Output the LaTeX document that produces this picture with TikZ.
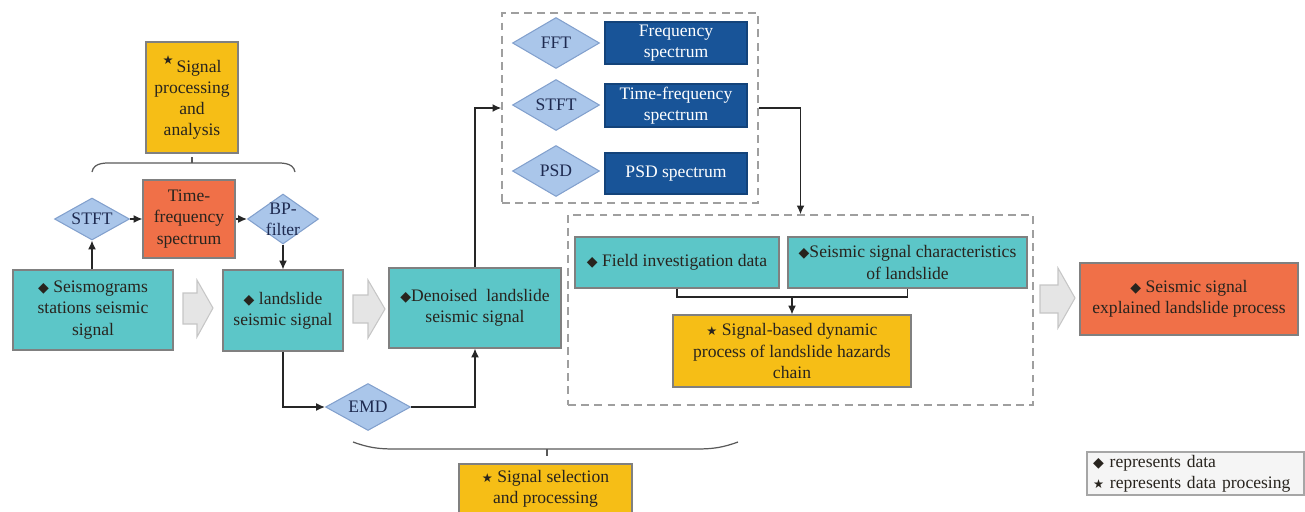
\documentclass[tikz,border=0pt]{standalone}
\usepackage{fontspec}
\setmainfont{Liberation Serif}
\newfontfamily\symf{DejaVu Sans}
\usetikzlibrary{shapes.geometric,arrows.meta}
\definecolor{tealc}{RGB}{92,198,200}
\definecolor{goldc}{RGB}{246,190,22}
\definecolor{orngc}{RGB}{240,112,72}
\definecolor{dbluec}{RGB}{24,84,152}
\definecolor{diaf}{RGB}{170,198,234}
\definecolor{diab}{RGB}{130,160,205}
\definecolor{diat}{RGB}{30,42,80}
\definecolor{bordc}{RGB}{128,128,128}
\definecolor{txtc}{RGB}{40,36,30}
\newcommand\dmd{{\symf\footnotesize ◆}}
\newcommand\stv{{\symf\scriptsize ★}}
\begin{document}
\begin{tikzpicture}[x=0.02cm,y=-0.02cm,
  sz/.style 2 args={minimum width=#1*0.02cm, minimum height=#2*0.02cm},
  box/.style={rectangle, draw=bordc, line width=0.6pt, inner sep=0pt, align=center, text=txtc, font=\fontsize{10}{12}\selectfont},
  tealbox/.style={box, fill=tealc},
  goldbox/.style={box, fill=goldc},
  orngbox/.style={box, fill=orngc},
  bluebox/.style={box, fill=dbluec, draw=dbluec!80!black, text=white},
  dia/.style={diamond, draw=diab, fill=diaf, inner sep=0pt, line width=0.6pt},
  dlab/.style={text=diat, align=center, font=\fontsize{10}{12}\selectfont},
  dbox/.style={rectangle, draw=gray!75, line width=0.8pt, dash pattern=on 4.5pt off 3pt, inner sep=0pt},
  arr/.style={-{Latex[length=5pt,width=4.5pt]}, line width=0.8pt, draw=black!85},
  ln/.style={line width=0.8pt, draw=black!85},
  garrow/.style={fill=gray!20, draw=gray!45, line width=0.6pt},
  brace/.style={line width=0.7pt, draw=gray!70!black},
  legbox/.style={rectangle, draw=gray!70, fill=gray!8, line width=0.6pt, inner sep=0pt, text width=4.1cm, align=left, text=txtc, font=\fontsize{10}{12}\selectfont}
]
\useasboundingbox (0,0) rectangle (1305,511);

% dashed group boxes
\node[dbox, sz={256}{190}] (topbox) at (630,108) {};
\node[dbox, sz={465}{190}] (botbox) at (800.5,310) {};

% left part
\node[goldbox, sz={92}{111}] (spa) at (192,97.5) {\raisebox{0.45em}{\stv}\,Signal\\processing\\and\\analysis};
\node[orngbox, sz={92}{78}] (tf) at (189,219) {Time-\\frequency\\spectrum};
\node[dia, minimum width=1.5cm, minimum height=0.84cm, label={[dlab]center:STFT}] (stfta) at (92,219) {};
\node[dia, minimum width=1.42cm, minimum height=1.0cm, label={[dlab]center:BP-\\filter}] (bp) at (283,219) {};
\node[tealbox, sz={160}{80}] (seis) at (93,310) {\dmd\ Seismograms\\stations seismic\\signal};
\node[tealbox, sz={120}{81}] (ls) at (283,310.5) {\dmd\ landslide\\seismic signal};
\node[tealbox, sz={172}{80}] (den) at (475,308) {\dmd Denoised\ \ landslide\\seismic signal};
\node[dia, minimum width=1.7cm, minimum height=0.94cm, label={[dlab]center:EMD}] (emd) at (368,407) {};

% top group
\node[dia, minimum width=1.74cm, minimum height=1.02cm, label={[dlab]center:FFT}] (fft) at (556,43) {};
\node[dia, minimum width=1.74cm, minimum height=1.02cm, label={[dlab]center:STFT}] (stftb) at (556,105) {};
\node[dia, minimum width=1.74cm, minimum height=1.02cm, label={[dlab]center:PSD}] (psd) at (556,171) {};
\node[bluebox, sz={142}{42}] (fs) at (676,43) {Frequency\\spectrum};
\node[bluebox, sz={142}{43}] (tfs) at (676,105.5) {Time-frequency\\spectrum};
\node[bluebox, sz={142}{41}] (ps) at (676,173.5) {PSD spectrum};

% bottom group
\node[tealbox, sz={204}{51}] (field) at (677,262.5) {\dmd\ Field investigation data};
\node[tealbox, sz={239}{51}] (chr) at (907.5,262.5) {\dmd Seismic signal characteristics\\of landslide};
\node[goldbox, sz={238}{72}] (yb) at (792,351) {\stv\ Signal-based dynamic\\process of landslide hazards\\chain};

% right
\node[orngbox, sz={218}{72}] (fin) at (1189,299) {\dmd\ Seismic signal\\explained landslide process};
\node[legbox, sz={217}{43}] (leg) at (1195.5,473.5) {\dmd\ represents data\\\stv\ represents data procesing};

% bottom label
\node[goldbox, sz={173}{50}] (sel) at (545.5,489) {\stv\ Signal selection\\and processing};

% connectors
\draw[arr] (stfta.south |- seis.north) -- (stfta.south);
\draw[arr] (stfta.east) -- (tf.west);
\draw[arr] (tf.east) -- (bp.west);
\draw[arr] (bp.south) -- (bp.south |- ls.north);
\draw[arr] (bp.south |- ls.south) |- (emd.west);
\draw[arr] (emd.east) -| (den.south);
\draw[arr] (den.north) |- (topbox.west);
\draw[arr] (topbox.east) -| (botbox.north);
\coordinate (jn) at (792,297);
\draw[ln] (field.south) |- (jn) -| (chr.south);
\draw[arr] (jn) -- (jn |- yb.north);

% braces
\draw[brace] (92,172) to[out=80,in=180] (118,163) -- (269,163) to[out=0,in=100] (295,172);
\draw[brace] (192,163) -- (192,157);
\draw[brace] (353,442) to[out=-20,in=180] (395,449) -- (696,449) to[out=0,in=200] (738,442);
\draw[brace] (547,449) -- (547,456);

% gray block arrows
\draw[garrow] (183,293) -- (197,293) -- (197,280) -- (213,308) -- (197,337) -- (197,324) -- (183,324) -- cycle;
\draw[garrow] (353,295) -- (368,295) -- (368,280) -- (385,309) -- (368,338) -- (368,323) -- (353,323) -- cycle;
\draw[garrow] (1040,285) -- (1058,285) -- (1058,268) -- (1075,298) -- (1058,328) -- (1058,313) -- (1040,313) -- cycle;
\end{tikzpicture}
\end{document}
